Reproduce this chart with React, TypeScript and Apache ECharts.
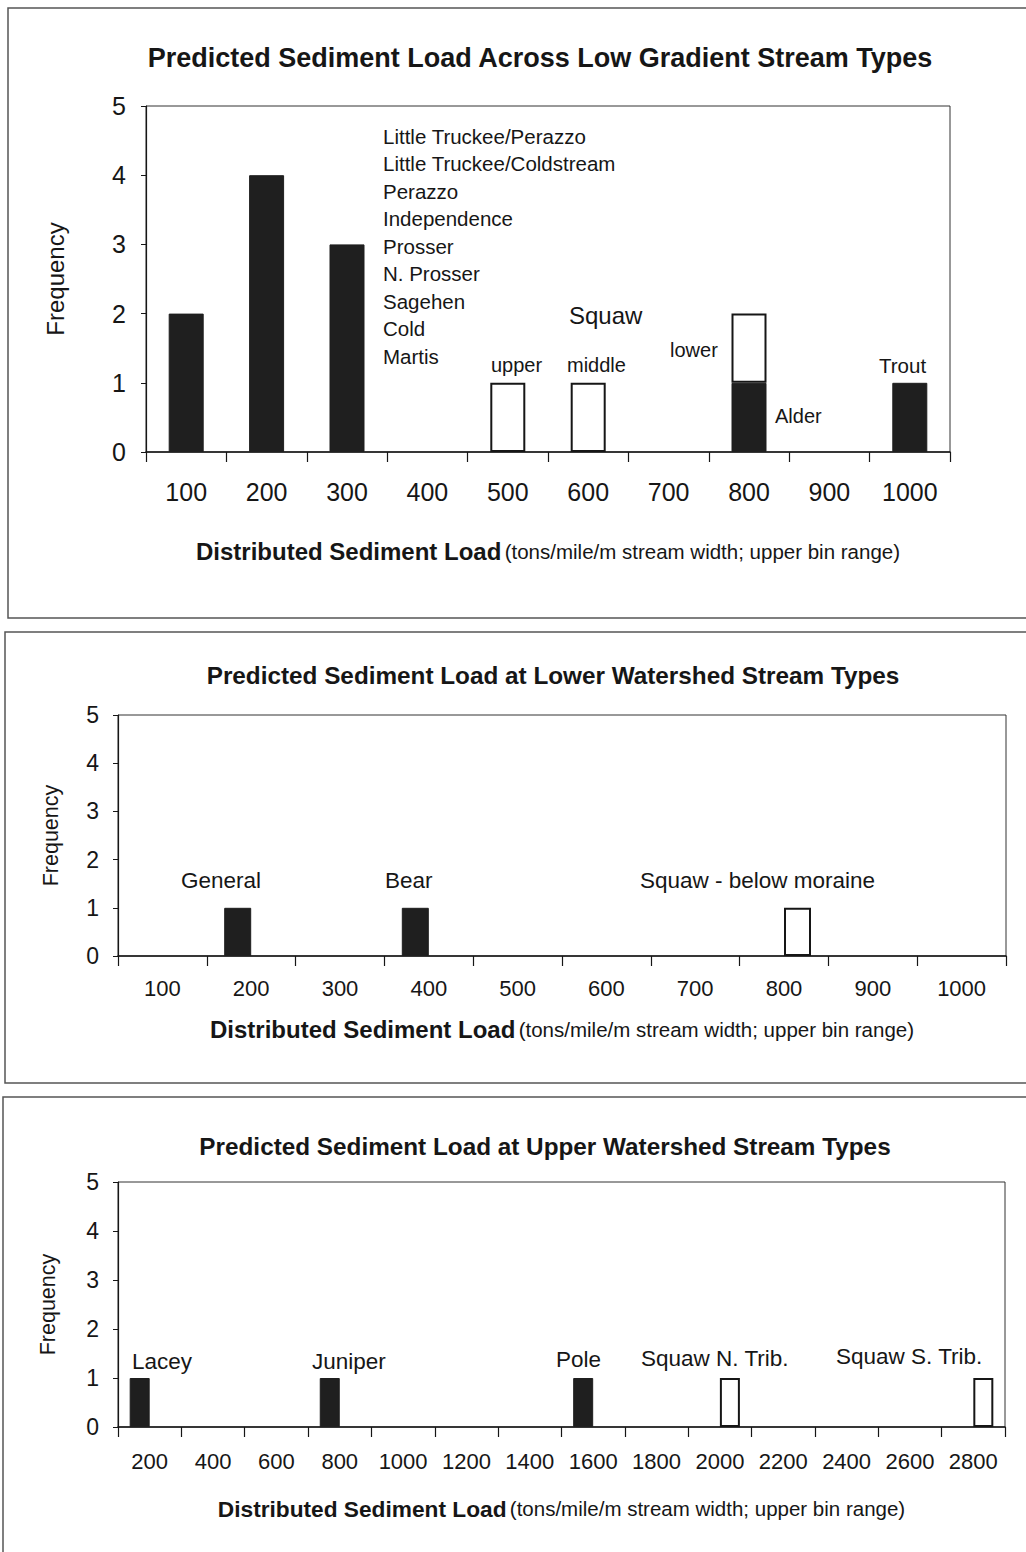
import React, { useEffect, useRef } from "react";
import * as echarts from "echarts";

const FONT = '"Liberation Sans", Arial, sans-serif';
const INK = "#161616";
const BAR = "#1f1f1f";

// Chart 1: Low gradient stream types
const bins1 = ["100", "200", "300", "400", "500", "600", "700", "800", "900", "1000"];
const filled1 = [2, 4, 3, 0, 0, 0, 0, 1, 0, 1];
const open1 = [0, 0, 0, 0, 1, 1, 0, 1, 0, 0];
const listNames1 = [
  "Little Truckee/Perazzo",
  "Little Truckee/Coldstream",
  "Perazzo",
  "Independence",
  "Prosser",
  "N. Prosser",
  "Sagehen",
  "Cold",
  "Martis",
];

// Chart 2: Lower watershed stream types
const bins2 = ["100", "200", "300", "400", "500", "600", "700", "800", "900", "1000"];
const filled2 = [0, 1, 0, 1, 0, 0, 0, 0, 0, 0];
const open2 = [0, 0, 0, 0, 0, 0, 0, 1, 0, 0];

// Chart 3: Upper watershed stream types
const bins3 = ["200", "400", "600", "800", "1000", "1200", "1400", "1600", "1800", "2000", "2200", "2400", "2600", "2800"];
const filled3 = [1, 0, 0, 1, 0, 0, 0, 1, 0, 0, 0, 0, 0, 0];
const open3 = [0, 0, 0, 0, 0, 0, 0, 0, 0, 1, 0, 0, 0, 1];

const titles = [
  "Predicted Sediment Load Across Low Gradient Stream Types",
  "Predicted Sediment Load at Lower Watershed Stream Types",
  "Predicted Sediment Load at Upper Watershed Stream Types",
];
const xName = "{b|Distributed Sediment Load} {r|(tons/mile/m stream width; upper bin range)}";
const yName = "Frequency";

const nz = (arr: number[]) => arr.map((v) => (v === 0 ? "-" : v));

function txt(text: string, x: number, y: number, size: number, extra: any = {}) {
  return {
    type: "text",
    x,
    y,
    silent: true,
    style: {
      text,
      font: `${size}px ${FONT}`,
      fill: INK,
      align: "left",
      textAlign: "left",
      verticalAlign: "middle",
      textVerticalAlign: "middle",
      ...extra,
    },
  };
}

function frame(x: number, y: number, w: number, h: number) {
  return {
    type: "rect",
    silent: true,
    z: -10,
    shape: { x, y, width: w, height: h },
    style: { fill: "none", stroke: "#555", lineWidth: 1.5 },
  };
}

export default function App() {
  const ref = useRef<HTMLDivElement>(null);

  useEffect(() => {
    if (!ref.current) return;
    const chart = echarts.init(ref.current, null, { renderer: "svg" });

    const grids = [
      { left: 146, top: 106, width: 804, height: 346 },
      { left: 118, top: 715, width: 888, height: 241 },
      { left: 118, top: 1182, width: 887, height: 245 },
    ];
    const xCfg = [
      { data: bins1, fs: 25, margin: 27, nameGap: 87, bold: 24 },
      { data: bins2, fs: 22, margin: 21, nameGap: 61, bold: 24 },
      { data: bins3, fs: 22, margin: 23, nameGap: 70, bold: 22.7 },
    ];
    const yCfg = [
      { fs: 25, margin: 20, nameGap: 79, nfs: 24 },
      { fs: 23, margin: 19, nameGap: 56, nfs: 21.5 },
      { fs: 23, margin: 19, nameGap: 59, nfs: 21.5 },
    ];
    const titlePos = [
      { x: 540, top: 44, fs: 27 },
      { x: 553, top: 663, fs: 24.3 },
      { x: 545, top: 1134, fs: 24.3 },
    ];

    const option: any = {
      animation: false,
      backgroundColor: "#fff",
      title: titles.map((t, i) => ({
        text: t,
        left: titlePos[i].x,
        top: titlePos[i].top,
        textAlign: "center",
        padding: 0,
        textStyle: { fontSize: titlePos[i].fs, fontWeight: "bold", fontFamily: FONT, color: INK },
      })),
      grid: grids.map((g) => ({
        ...g,
        show: true,
        borderColor: "#333",
        borderWidth: 1,
        backgroundColor: "transparent",
      })),
      xAxis: xCfg.map((c, i) => ({
        type: "category",
        gridIndex: i,
        data: c.data,
        axisLine: { lineStyle: { color: INK, width: 1.5 } },
        axisTick: { show: true, length: 10, inside: false, lineStyle: { color: INK, width: 1.2 } },
        axisLabel: { fontSize: c.fs, margin: c.margin, color: INK, fontFamily: FONT, interval: 0 },
        name: xName,
        nameLocation: "middle",
        nameGap: c.nameGap,
        nameTextStyle: {
          color: INK,
          fontFamily: FONT,
          rich: {
            b: { fontWeight: "bold", fontSize: c.bold, fontFamily: FONT, color: INK },
            r: { fontSize: 20.5, fontFamily: FONT, color: INK },
          },
        },
      })),
      yAxis: yCfg.map((c, i) => ({
        type: "value",
        gridIndex: i,
        min: 0,
        max: 5,
        interval: 1,
        splitLine: { show: false },
        axisLine: { show: true, lineStyle: { color: INK, width: 1.2 } },
        axisTick: { show: true, length: 5, lineStyle: { color: INK } },
        axisLabel: { fontSize: c.fs, margin: c.margin, color: INK, fontFamily: FONT },
        name: yName,
        nameLocation: "middle",
        nameRotate: 90,
        nameGap: c.nameGap,
        nameTextStyle: { fontSize: c.nfs, fontFamily: FONT, color: INK },
      })),
      series: [
        {
          type: "bar",
          name: "filled-1",
          xAxisIndex: 0,
          yAxisIndex: 0,
          stack: "s1",
          barWidth: 35,
          data: nz(filled1),
          itemStyle: { color: BAR, borderColor: BAR, borderWidth: 1 },
        },
        {
          type: "bar",
          name: "open-1",
          xAxisIndex: 0,
          yAxisIndex: 0,
          stack: "s1",
          barWidth: 35,
          data: nz(open1),
          itemStyle: { color: "#fff", borderColor: INK, borderWidth: 2 },
        },
        {
          type: "bar",
          name: "filled-2",
          xAxisIndex: 1,
          yAxisIndex: 1,
          barWidth: 27,
          barGap: "0%",
          data: nz(filled2),
          itemStyle: { color: BAR, borderColor: BAR, borderWidth: 1 },
        },
        {
          type: "bar",
          name: "open-2",
          xAxisIndex: 1,
          yAxisIndex: 1,
          barWidth: 27,
          barGap: "0%",
          data: nz(open2),
          itemStyle: { color: "#fff", borderColor: INK, borderWidth: 2 },
        },
        {
          type: "bar",
          name: "filled-3",
          xAxisIndex: 2,
          yAxisIndex: 2,
          barWidth: 20,
          barGap: "0%",
          data: nz(filled3),
          itemStyle: { color: BAR, borderColor: BAR, borderWidth: 1 },
        },
        {
          type: "bar",
          name: "open-3",
          xAxisIndex: 2,
          yAxisIndex: 2,
          barWidth: 20,
          barGap: "0%",
          data: nz(open3),
          itemStyle: { color: "#fff", borderColor: INK, borderWidth: 2 },
        },
      ],
      graphic: [
        frame(8, 8, 1040, 610),
        frame(5, 632, 1040, 451),
        frame(3, 1097, 1040, 480),
        // chart 1 annotations
        txt(listNames1.join("\n"), 383, 122.5, 20.5, {
          verticalAlign: "top",
          textVerticalAlign: "top",
          lineHeight: 27.5,
        }),
        txt("Squaw", 569, 315, 24),
        txt("upper", 491, 365, 20),
        txt("middle", 567, 365, 20),
        txt("lower", 670, 350, 20),
        txt("Trout", 879, 365, 20.5),
        txt("Alder", 775, 416, 20),
        // chart 2 annotations
        txt("General", 181, 880, 22.5),
        txt("Bear", 385, 880, 22.5),
        txt("Squaw - below moraine", 640, 880, 22.5),
        // chart 3 annotations
        txt("Lacey", 132, 1361, 22.5),
        txt("Juniper", 312, 1361, 22.5),
        txt("Pole", 556, 1359, 22.5),
        txt("Squaw N. Trib.", 641, 1358, 22.5),
        txt("Squaw S. Trib.", 836, 1356, 22.5),
      ],
    };

    chart.setOption(option);
    return () => chart.dispose();
  }, []);

  return (
    <div
      ref={ref}
      style={{ position: "absolute", left: 0, top: 0, width: 1026, height: 1552, background: "#fff" }}
    />
  );
}
